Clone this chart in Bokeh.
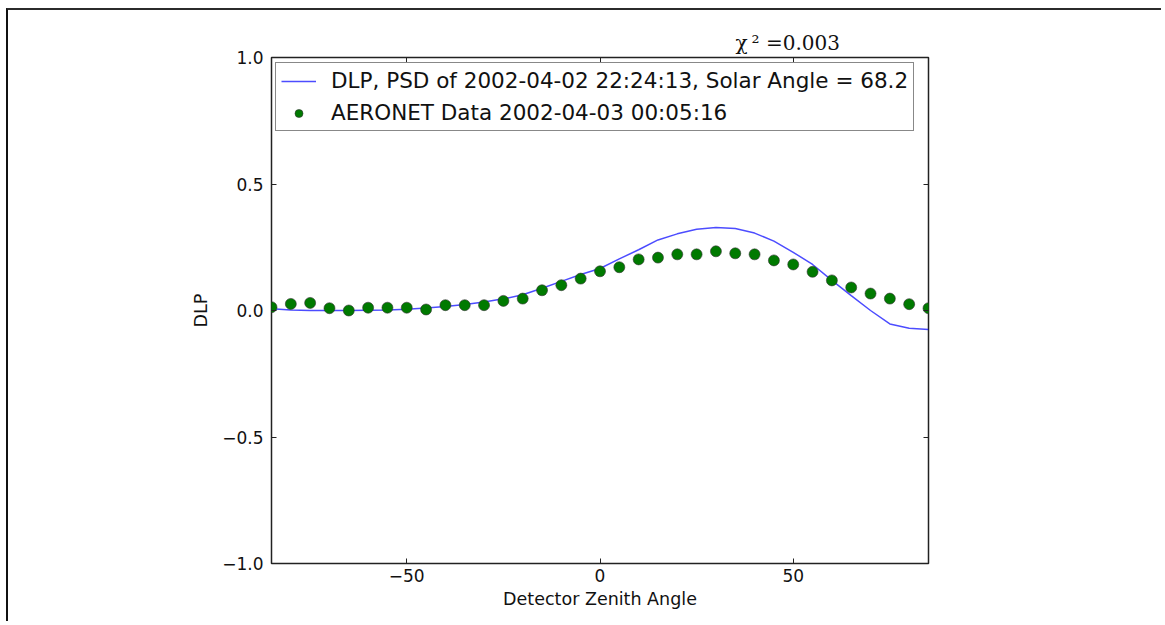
from bokeh.plotting import figure
from bokeh.models import FixedTicker, CustomJSTickFormatter, LinearAxis, Title, Range1d
from bokeh.embed import file_html
from bokeh.resources import INLINE

# ---- data ----
angles = list(range(-85, 90, 5))
dlp_model = [0.007, 0.002, 0.000, 0.000, 0.000, 0.001, 0.002, 0.005, 0.010, 0.016,
             0.024, 0.034, 0.046, 0.062, 0.088, 0.115, 0.142, 0.166, 0.204, 0.240,
             0.279, 0.303, 0.321, 0.328, 0.324, 0.306, 0.274, 0.230, 0.182, 0.119,
             0.059, 0.000, -0.053, -0.070, -0.075]
aeronet = [0.013, 0.026, 0.030, 0.009, 0.000, 0.011, 0.011, 0.011, 0.004, 0.021,
           0.021, 0.021, 0.038, 0.047, 0.080, 0.100, 0.126, 0.155, 0.171, 0.202,
           0.209, 0.222, 0.222, 0.234, 0.226, 0.222, 0.198, 0.182, 0.153, 0.119,
           0.091, 0.067, 0.047, 0.025, 0.009]
x_ticks = [-50, 0, 50]
y_ticks = [-1.0, -0.5, 0.0, 0.5, 1.0]
model_label = "DLP, PSD of 2002-04-02 22:24:13, Solar Angle = 68.2"
data_label = "AERONET Data 2002-04-03 00:05:16"
chi_text = "\u03c7\u2009\u00b2 =0.003"

FONT = "DejaVu Sans"

p = figure(width=1155, height=613, output_backend="svg", toolbar_location=None,
           x_range=Range1d(-85, 85), y_range=Range1d(-1, 1),
           min_border_left=263, min_border_right=235, min_border_top=47, min_border_bottom=60,
           x_axis_label="Detector Zenith Angle", y_axis_label="DLP")
p.styles = {"margin-top": "8px", "margin-left": "6px",
            "border-top": "2px solid #2b2b2b", "border-left": "2px solid #111111"}
p.grid.visible = False
p.outline_line_color = "#222222"
p.outline_line_width = 1.5
p.background_fill_color = "white"
p.border_fill_color = "white"

xfmt = CustomJSTickFormatter(code="return tick.toFixed(0).replace('-', '\u2212');")
yfmt = CustomJSTickFormatter(code="return tick.toFixed(1).replace('-', '\u2212');")

bottom = p.below[0]
left = p.left[0]
bottom.ticker = FixedTicker(ticks=x_ticks)
bottom.formatter = xfmt
left.ticker = FixedTicker(ticks=y_ticks)
left.formatter = yfmt

top = LinearAxis(ticker=FixedTicker(ticks=x_ticks), formatter=xfmt)
right = LinearAxis(ticker=FixedTicker(ticks=y_ticks), formatter=yfmt)
p.add_layout(top, "above")
p.add_layout(right, "right")

for ax in (bottom, left, top, right):
    ax.axis_line_color = None
    ax.major_tick_in = 5
    ax.major_tick_out = 0
    ax.major_tick_line_color = "#222222"
    ax.minor_tick_line_color = None
    ax.major_label_text_font = FONT
    ax.major_label_text_font_size = "17px"
    ax.major_label_text_color = "#111111"
    ax.axis_label_text_font = FONT
    ax.axis_label_text_font_size = "17.5px"
    ax.axis_label_text_font_style = "normal"
    ax.axis_label_text_color = "#111111"
    ax.major_label_standoff = 8
    ax.axis_label_standoff = 8

bottom.major_label_standoff = 5
bottom.axis_label_standoff = 4
for ax in (top, right):
    ax.major_label_text_alpha = 0
    ax.major_label_text_font_size = "1px"
    ax.major_label_standoff = 0

p.line(angles, dlp_model, line_color="#0000ff", line_alpha=0.7, line_width=1.5,
       legend_label=model_label)
p.scatter(angles, aeronet, size=11, fill_color="#007a00", line_color="#333333",
          line_width=0.6, legend_label=data_label)

lg = p.legend[0]
lg.location = (4, 432)
lg.margin = 0
lg.padding = 5
lg.spacing = 7
lg.border_line_color = "#111111"
lg.border_line_width = 1.5
lg.label_text_font = FONT
lg.label_text_font_size = "21.5px"
lg.label_text_color = "#111111"
lg.glyph_width = 35
lg.glyph_height = 20
lg.label_standoff = 15
lg.background_fill_alpha = 1

p.add_layout(Title(text=chi_text, align="left", offset=464, standoff=6,
                   text_font="DejaVu Serif", text_font_size="20px",
                   text_font_style="normal", text_color="#111111"), "above")

open("out.html", "w").write(file_html(p, INLINE))
